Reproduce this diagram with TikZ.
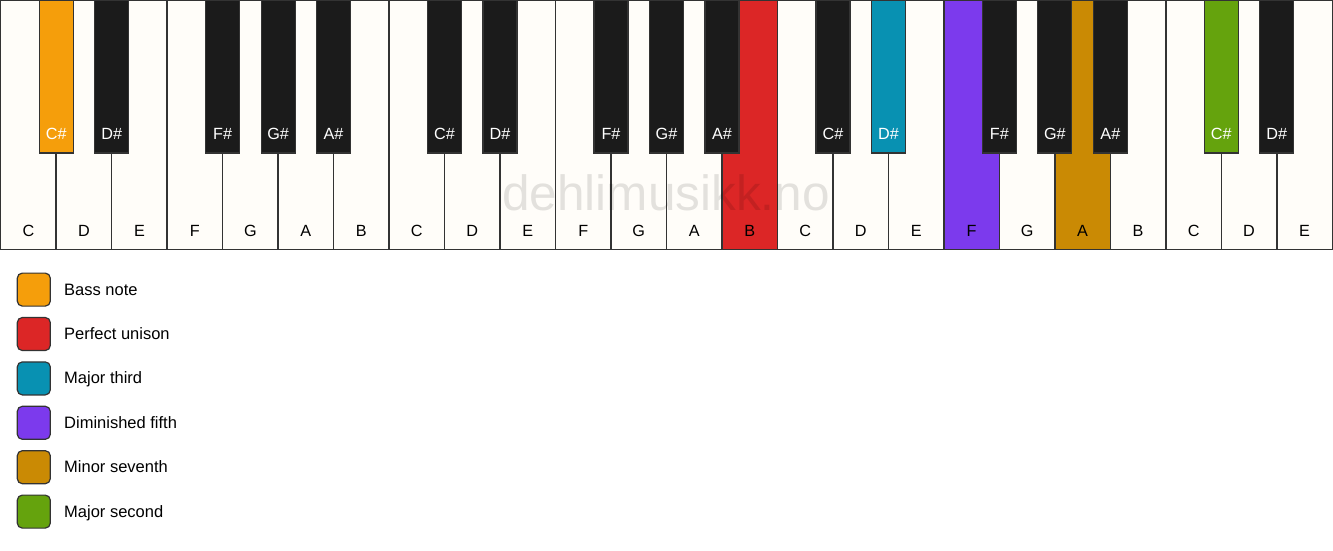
\documentclass[tikz,border=0pt]{standalone}
\usepackage{fontspec}
\setmainfont{Liberation Sans}
\definecolor{kw}{HTML}{FFFDF9}
\definecolor{kb}{HTML}{1B1B1B}
\definecolor{kline}{HTML}{333333}
\definecolor{cor}{HTML}{F59E0B}
\definecolor{cred}{HTML}{DC2626}
\definecolor{cteal}{HTML}{0891B2}
\definecolor{cpur}{HTML}{7C3AED}
\definecolor{cgold}{HTML}{CA8A04}
\definecolor{cgrn}{HTML}{65A30D}
\tikzset{
  wkey/.style={draw=kline, line width=1.5pt, anchor=north west, minimum width=55.483pt, minimum height=248.8pt, inner sep=0pt, outer sep=0pt},
  bkey/.style={draw=kline, line width=1.2pt, anchor=north, minimum width=34pt, minimum height=152.5pt, inner sep=0pt, outer sep=0pt},
  klabel/.style={font=\fontsize{16.2}{19}\selectfont, inner sep=0pt, anchor=base},
  legbox/.style={draw=kline, line width=1.2pt, rounded corners=5pt, minimum width=33pt, minimum height=33pt, inner sep=0pt, anchor=north west},
  legtext/.style={font=\fontsize{16.5}{19}\selectfont, inner sep=0pt, anchor=base west},
  wmark/.style={font=\fontsize{49.5}{56}\selectfont, text=black, text opacity=0.11, inner sep=0pt}
}
\begin{document}
\begin{tikzpicture}[x=1pt,y=-1pt]
\useasboundingbox (0,0) rectangle (1333,550);
\fill[white] (0,0) rectangle (1333,550);
% white keys
\foreach \n/\c [count=\i from 0] in {C/kw,D/kw,E/kw,F/kw,G/kw,A/kw,B/kw,C/kw,D/kw,E/kw,F/kw,G/kw,A/kw,B/cred,C/kw,D/kw,E/kw,F/cpur,G/kw,A/cgold,B/kw,C/kw,D/kw,E/kw}{
  \node[wkey, fill=\c] (wk\i) at ({0.7+\i*55.483},0.7) {};
  \node[klabel] (wl\i) at ({0.7+(\i+0.5)*55.483},236) {\n};
}
% watermark
\node[wmark] (wm) at (666,193) {dehlimusikk.no};
% black keys
\foreach \b/\n/\c in {1/C\#/cor,2/D\#/kb,4/F\#/kb,5/G\#/kb,6/A\#/kb,8/C\#/kb,9/D\#/kb,11/F\#/kb,12/G\#/kb,13/A\#/kb,15/C\#/kb,16/D\#/cteal,18/F\#/kb,19/G\#/kb,20/A\#/kb,22/C\#/cgrn,23/D\#/kb}{
  \node[bkey, fill=\c] (bk\b) at ({0.7+\b*55.483},0.5) {};
  \node[klabel, text=white] (bl\b) at ({0.7+\b*55.483},139) {\n};
}
% legend
\foreach \c/\t [count=\i from 0] in {cor/Bass note,cred/Perfect unison,cteal/Major third,cpur/Diminished fifth,cgold/Minor seventh,cgrn/Major second}{
  \node[legbox, fill=\c] (lb\i) at (16.7,{272.5+\i*44.4}) {};
  \node[legtext] (lt\i) at (64,{295+\i*44.4}) {\t};
}
\end{tikzpicture}
\end{document}
